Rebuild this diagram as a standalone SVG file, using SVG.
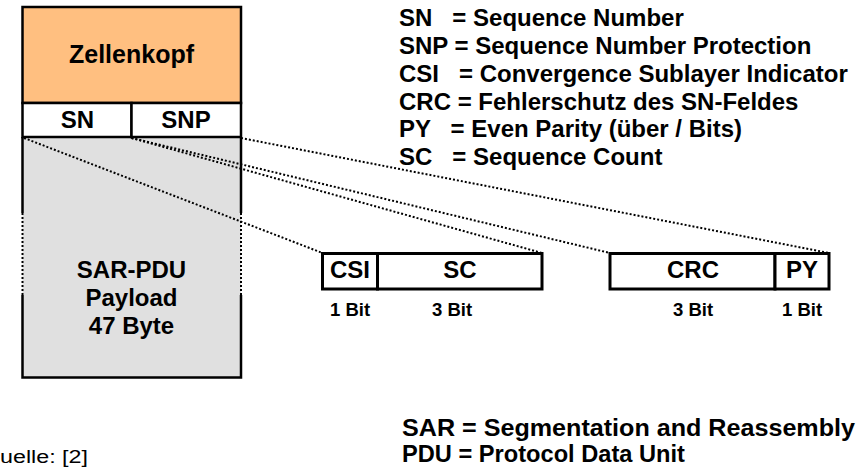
<svg xmlns="http://www.w3.org/2000/svg" width="868" height="468" viewBox="0 0 868 468">
  <style>
    .b { font-family: "Liberation Sans", Arial, sans-serif; font-weight: bold; fill: #000; }
    .r { font-family: "Liberation Sans", Arial, sans-serif; fill: #000; }
    .pre { white-space: pre; }
    .box { stroke: #000; stroke-width: 2.5; }
    .fld { fill: #fff; stroke: #000; stroke-width: 3; }
    .edge { stroke: #000; stroke-width: 2.5; fill: none; }
    .dot { stroke: #000; stroke-width: 2; stroke-dasharray: 2 2; fill: none; }
    .c { text-anchor: middle; }
  </style>
  <rect width="868" height="468" fill="#fff"/>

  <!-- ATM cell: header, SN/SNP byte, payload -->
  <g id="cell">
    <rect x="22.5" y="137" width="218.5" height="240" fill="#e0e0e0"/>
    <rect x="22.5" y="7" width="218.5" height="96" fill="#ffbf80" class="box"/>
    <rect x="22.5" y="103" width="109" height="34" fill="#fff" class="box"/>
    <rect x="131.5" y="103" width="109.5" height="34" fill="#fff" class="box"/>
    <path class="edge" d="M22.5 137V213M22.5 295V377.5H241V295M241 213V137"/>
    <path class="dot" d="M22.5 213V295M241 213V295"/>
    <text class="b c" x="131.5" y="63" font-size="25">Zellenkopf</text>
    <text class="b c" x="77.5" y="128" font-size="24">SN</text>
    <text class="b c" x="186" y="128" font-size="24">SNP</text>
    <text class="b c" x="131.5" y="278" font-size="24">SAR-PDU</text>
    <text class="b c" x="131.5" y="306" font-size="24">Payload</text>
    <text class="b c" x="131.5" y="334" font-size="24">47 Byte</text>
  </g>

  <!-- dotted fan-out from the SN/SNP byte to the bit fields -->
  <g id="connectors">
    <line class="dot" x1="24" y1="138" x2="322.5" y2="253"/>
    <line class="dot" x1="131.5" y1="138" x2="542" y2="253"/>
    <line class="dot" x1="131.5" y1="138" x2="610" y2="253"/>
    <line class="dot" x1="241" y1="138" x2="829" y2="253"/>
  </g>

  <g id="sn-fields">
    <rect class="fld" x="322.5" y="253.5" width="55" height="35.5"/>
    <rect class="fld" x="377.5" y="253.5" width="164.5" height="35.5"/>
    <text class="b c" x="350" y="278" font-size="24">CSI</text>
    <text class="b c" x="460" y="278" font-size="24">SC</text>
    <text class="b c" x="350" y="316" font-size="18.5">1 Bit</text>
    <text class="b c" x="452" y="316" font-size="18.5">3 Bit</text>
  </g>

  <g id="snp-fields">
    <rect class="fld" x="610" y="253.5" width="165" height="35.5"/>
    <rect class="fld" x="775" y="253.5" width="54" height="35.5"/>
    <text class="b c" x="693" y="278" font-size="24">CRC</text>
    <text class="b c" x="802" y="278" font-size="24">PY</text>
    <text class="b c" x="693" y="316" font-size="18.5">3 Bit</text>
    <text class="b c" x="802" y="316" font-size="18.5">1 Bit</text>
  </g>

  <g id="legend">
    <text class="b pre" x="399" y="26" font-size="24">SN   = Sequence Number</text>
    <text class="b pre" x="399" y="54" font-size="24">SNP = Sequence Number Protection</text>
    <text class="b pre" x="399" y="82" font-size="24">CSI   = Convergence Sublayer Indicator</text>
    <text class="b pre" x="399" y="110" font-size="24">CRC = Fehlerschutz des SN-Feldes</text>
    <text class="b pre" x="399" y="137" font-size="24">PY   = Even Parity (über / Bits)</text>
    <text class="b pre" x="399" y="165" font-size="24">SC   = Sequence Count</text>
  </g>

  <g id="abbreviations">
    <text class="b" x="402" y="436" font-size="23" textLength="453" lengthAdjust="spacingAndGlyphs">SAR = Segmentation and Reassembly</text>
    <text class="b" x="402" y="462" font-size="23" textLength="283" lengthAdjust="spacingAndGlyphs">PDU = Protocol Data Unit</text>
  </g>

  <text id="source" class="r" x="0" y="463" font-size="18" textLength="88" lengthAdjust="spacingAndGlyphs">uelle: [2]</text>
</svg>
